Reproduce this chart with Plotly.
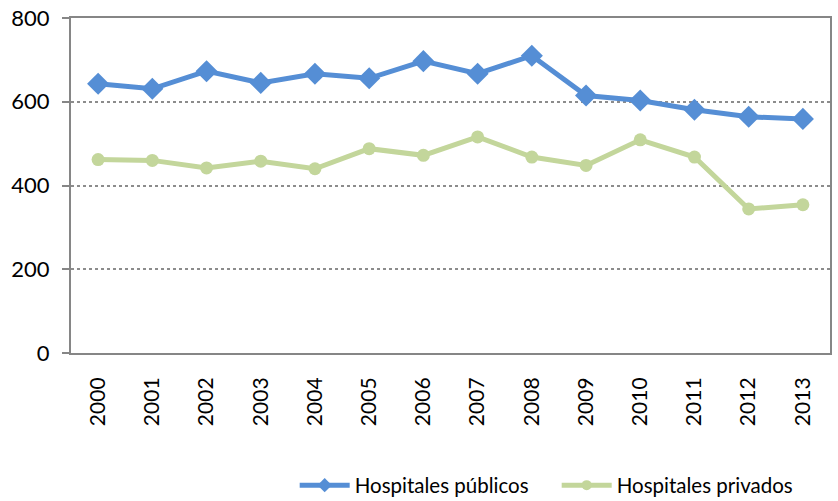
import plotly.graph_objects as go

years = [str(y) for y in range(2000, 2014)]
publicos = [643, 631, 673, 645, 667, 656, 697, 667, 710, 615, 603, 581, 564, 559]
privados = [462, 460, 442, 458, 440, 488, 472, 516, 468, 448, 509, 468, 344, 354]
series_names = ["Hospitales públicos", "Hospitales privados"]

FONT = "Lato, 'Open Sans', sans-serif"
BLUE = "#558ed5"
GREEN = "#c3d69b"
AXIS = "#868686"

fig = go.Figure()
fig.add_trace(go.Scatter(
    x=years, y=publicos, name=series_names[0], showlegend=False,
    mode="lines+markers",
    line=dict(color=BLUE, width=5),
    marker=dict(symbol="diamond", size=17, color=BLUE),
))
fig.add_trace(go.Scatter(
    x=years, y=privados, name=series_names[1], showlegend=False,
    mode="lines+markers",
    line=dict(color=GREEN, width=5),
    marker=dict(symbol="circle", size=13, color=GREEN),
))
# legend entries with smaller symbols, as in the original
fig.add_trace(go.Scatter(
    x=[None], y=[None], name=series_names[0], mode="lines+markers",
    line=dict(color=BLUE, width=5), marker=dict(symbol="diamond", size=11, color=BLUE),
))
fig.add_trace(go.Scatter(
    x=[None], y=[None], name=series_names[1], mode="lines+markers",
    line=dict(color=GREEN, width=5), marker=dict(symbol="circle", size=10, color=GREEN),
))

fig.update_layout(
    width=838, height=501,
    margin=dict(l=71, r=8, t=18, b=148, autoexpand=False),
    paper_bgcolor="white", plot_bgcolor="white",
    font=dict(family=FONT, size=21, color="#000000"),
    showlegend=True,
    legend=dict(
        orientation="h", xanchor="left", x=(300 - 71) / 759 - 0.007, yanchor="middle", y=-0.395,
        font=dict(size=20.5), itemwidth=50, entrywidth=197, bgcolor="rgba(0,0,0,0)",
    ),
)
fig.update_xaxes(
    type="category", range=[-0.5, 13.5],
    showline=True, linecolor=AXIS, linewidth=2, mirror=True,
    showgrid=False, ticks="outside", ticklen=14, tickcolor="rgba(0,0,0,0)",
    tickangle=-90, tickfont=dict(size=21),
)
fig.update_yaxes(
    range=[0, 800], dtick=200,
    showline=True, linecolor=AXIS, linewidth=2, mirror=True,
    showgrid=True, gridcolor="#8c8c8c", gridwidth=1.5, griddash="dot",
    zeroline=False,
    ticks="outside", ticklen=7, tickcolor=AXIS, tickwidth=2,
    ticklabelstandoff=8, tickfont=dict(size=22),
)

# drop the default 8px page margin so the figure sits at the window's corner
fig.write_html(
    "out.html",
    config={"displayModeBar": False},
    post_script="document.body.style.margin = '0';",
)
